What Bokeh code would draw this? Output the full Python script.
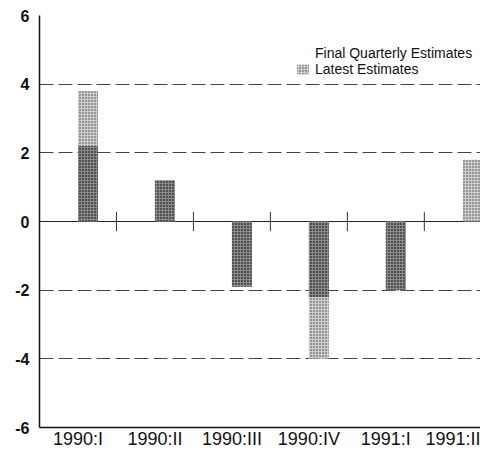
from bokeh.plotting import figure
from bokeh.models import Range1d, FixedTicker, Legend, LegendItem, Grid, ColumnDataSource
from bokeh.embed import file_html
from bokeh.resources import INLINE

categories = ["1990:I", "1990:II", "1990:III", "1990:IV", "1991:I", "1991:II"]
latest_estimates = [3.8, 1.2, -1.9, -4.0, -2.0, 1.8]
final_estimates = [2.2, 1.2, -1.9, -2.2, -2.0, 0.0]
y_ticks = [-6, -4, -2, 0, 2, 4, 6]
y_tick_labels = ["-6", "-4", "-2", "0", "2", "4", "6"]

n = len(categories)
centers = [i + 0.5 for i in range(n)]
bar_w = 0.26
src = ColumnDataSource(dict(
    x=[c + bar_w / 2 for c in centers],
    latest=latest_estimates,
    final=final_estimates,
))

p = figure(width=480, height=451, output_backend="svg", toolbar_location=None,
           x_range=Range1d(0, 5.73), y_range=Range1d(-6, 6),
           min_border_left=39, min_border_right=0, min_border_top=15, min_border_bottom=22)
p.outline_line_color = None
p.background_fill_color = "white"
p.border_fill_color = "white"

# grid
p.xgrid.visible = False
p.ygrid.ticker = FixedTicker(ticks=[-4, -2, 2, 4])
p.ygrid.grid_line_color = "#444444"
p.ygrid.grid_line_dash = "14 5"
p.ygrid.grid_line_width = 1
solid = Grid(dimension=1, ticker=FixedTicker(ticks=[0, 6]), grid_line_color="#222222", grid_line_width=1.2)
p.add_layout(solid)

# bars
legend_final = p.vbar(x="x", top="final", bottom=0, width=bar_w, source=src,
                      fill_color="white", fill_alpha=0, line_color=None)
latest_r = p.vbar(x="x", top="latest", bottom=0, width=bar_w, source=src,
                  fill_color="#cccccc", line_color=None,
                  hatch_pattern="dot", hatch_color="#222222", hatch_scale=3, hatch_alpha=0.8)
final_r = p.vbar(x="x", top="final", bottom=0, width=bar_w, source=src,
                 fill_color="#555555", fill_alpha=0.55, line_color=None,
                 hatch_pattern="dot", hatch_color="#111111", hatch_scale=3, hatch_alpha=0.9)

# separators on zero line
bounds = list(range(1, n))
p.segment(x0=bounds, y0=[-0.28] * len(bounds), x1=bounds, y1=[0.28] * len(bounds),
          line_color="#333333", line_width=1)

# axes
p.xaxis.ticker = FixedTicker(ticks=centers)
p.xaxis.major_label_overrides = {c: lab for c, lab in zip(centers, categories)}
p.yaxis.ticker = FixedTicker(ticks=y_ticks)
p.yaxis.major_label_overrides = {t: lab for t, lab in zip(y_ticks, y_tick_labels)}
for ax in (p.xaxis[0], p.yaxis[0]):
    ax.axis_line_color = "#111111"
    ax.axis_line_width = 1.5
    ax.major_tick_out = 0
    ax.major_tick_in = 0
    ax.minor_tick_out = 0
    ax.minor_tick_in = 0
    ax.major_label_text_font = "Liberation Sans"
    ax.major_label_text_color = "#111111"
p.xaxis.major_label_text_font_size = "18px"
p.yaxis.major_label_text_font_size = "16px"
p.yaxis.major_label_text_font_style = "bold"
p.xaxis.major_label_standoff = 1
p.yaxis.major_label_standoff = 10

legend = Legend(items=[
    LegendItem(label="Final Quarterly Estimates", renderers=[legend_final]),
    LegendItem(label="Latest Estimates", renderers=[latest_r]),
], location=(256, 350))
legend.padding = 0
legend.margin = 0
legend.spacing = 0
legend.glyph_width = 15
legend.glyph_height = 12
legend.label_height = 14
legend.label_standoff = 5
legend.label_text_font = "Liberation Sans"
legend.label_text_font_size = "14px"
legend.label_text_color = "#111111"
legend.background_fill_alpha = 0
legend.border_line_color = None
p.add_layout(legend, "center")

open("out.html", "w").write(file_html(p, INLINE))
